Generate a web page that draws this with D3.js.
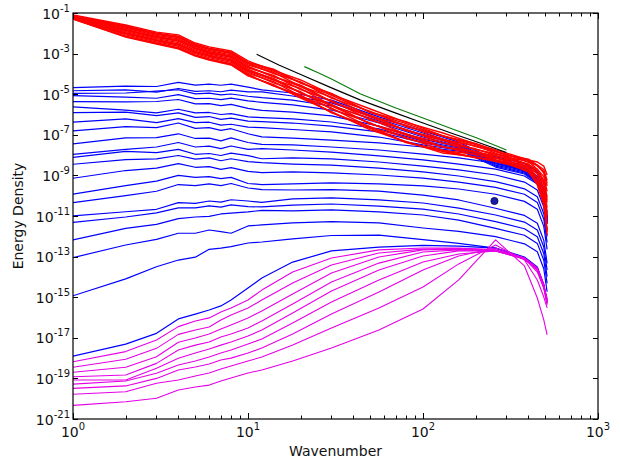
<!DOCTYPE html>
<html>
<head>
<meta charset="utf-8">
<script src="https://cdn.jsdelivr.net/npm/d3@7"></script>
<style>
  body { margin: 0; background: #fff; }
  text { font-family: "DejaVu Sans", sans-serif; fill: #111; }
</style>
</head>
<body>
<svg id="chart" width="620" height="461"></svg>
<script>
// wavenumbers sampled for the red curves, and log10(energy) per curve
const kRed = [1, 2, 3, 4, 5, 6, 8, 10, 14, 20, 30, 50, 80, 130, 200, 300, 400, 450, 490, 512];
const redLog = [
  [-1.10,-1.59,-1.94,-2.08,-2.48,-2.67,-2.87,-3.36,-3.83,-4.30,-5.01,-5.73,-6.39,-6.91,-7.45,-7.90,-8.24,-8.34,-8.54,-8.98],
  [-1.12,-1.64,-1.99,-2.14,-2.54,-2.73,-2.93,-3.43,-3.77,-4.45,-4.96,-5.89,-6.35,-7.05,-7.42,-8.00,-8.20,-8.49,-8.71,-9.25],
  [-1.13,-1.67,-2.02,-2.18,-2.57,-2.76,-2.97,-3.46,-3.86,-4.44,-5.06,-5.90,-6.45,-7.08,-7.48,-8.01,-8.26,-8.53,-8.81,-9.39],
  [-1.14,-1.70,-2.05,-2.21,-2.60,-2.79,-3.00,-3.49,-3.98,-4.39,-5.19,-5.85,-6.59,-7.04,-7.58,-7.95,-8.36,-8.50,-8.89,-9.52],
  [-1.15,-1.75,-2.10,-2.27,-2.65,-2.85,-3.06,-3.56,-3.92,-4.61,-5.14,-6.08,-6.54,-7.23,-7.55,-8.10,-8.31,-8.70,-9.06,-9.79],
  [-1.17,-1.81,-2.15,-2.33,-2.71,-2.91,-3.12,-3.63,-4.14,-4.55,-5.37,-6.03,-6.78,-7.22,-7.72,-8.05,-8.47,-8.70,-9.24,-10.06],
  [-1.18,-1.84,-2.18,-2.36,-2.74,-2.94,-3.15,-3.66,-4.13,-4.63,-5.38,-6.12,-6.79,-7.29,-7.73,-8.09,-8.48,-8.77,-9.33,-10.19],
  [-1.19,-1.86,-2.21,-2.39,-2.77,-2.97,-3.18,-3.70,-4.07,-4.77,-5.32,-6.27,-6.74,-7.41,-7.69,-8.20,-8.43,-8.90,-9.41,-10.33],
  [-1.21,-1.92,-2.26,-2.46,-2.83,-3.02,-3.25,-3.76,-4.29,-4.72,-5.55,-6.22,-6.98,-7.40,-7.85,-8.14,-8.59,-8.91,-9.59,-10.59],
  [-1.23,-1.97,-2.32,-2.52,-2.89,-3.08,-3.31,-3.83,-4.22,-4.94,-5.50,-6.46,-6.94,-7.59,-7.82,-8.29,-8.55,-9.11,-9.76,-10.86],
  [-1.24,-2.00,-2.34,-2.55,-2.92,-3.11,-3.34,-3.86,-4.30,-4.94,-5.58,-6.46,-7.02,-7.61,-7.87,-8.30,-8.60,-9.14,-9.85,-10.99],
  [-1.25,-2.03,-2.37,-2.58,-2.95,-3.14,-3.37,-3.90,-4.44,-4.88,-5.73,-6.41,-7.18,-7.58,-7.99,-8.24,-8.71,-9.11,-9.94,-11.13],
  [-1.26,-2.08,-2.42,-2.64,-3.00,-3.20,-3.43,-3.97,-4.38,-5.10,-5.68,-6.64,-7.13,-7.77,-7.96,-8.39,-8.66,-9.31,-10.11,-11.40],
  [-1.28,-2.14,-2.48,-2.71,-3.06,-3.26,-3.50,-4.03,-4.59,-5.04,-5.91,-6.60,-7.37,-7.76,-8.12,-8.34,-8.82,-9.32,-10.29,-11.67],
  [-1.29,-2.16,-2.50,-2.74,-3.09,-3.29,-3.53,-4.06,-4.59,-5.12,-5.91,-6.68,-7.38,-7.82,-8.13,-8.38,-8.83,-9.38,-10.36,-11.79],
  [-1.30,-2.19,-2.53,-2.77,-3.12,-3.32,-3.56,-4.10,-4.53,-5.19,-5.86,-6.76,-7.33,-7.90,-8.09,-8.44,-8.78,-9.47,-10.46,-11.94]
];

// wavenumbers sampled for the blue and magenta curves
const kLow = [1, 2, 3, 4, 5, 6, 7, 8, 10, 12, 18, 30, 56, 100, 160, 260, 380, 450, 490, 512];
const blueLog = [
  [-4.68,-4.60,-4.62,-4.42,-4.55,-4.50,-4.56,-4.50,-4.65,-4.79,-4.94,-5.29,-6.12,-6.81,-7.36,-8.24,-8.59,-9.03,-9.82,-11.00],
  [-4.83,-4.79,-4.90,-4.72,-4.86,-4.83,-4.88,-4.80,-4.89,-4.89,-5.09,-5.43,-6.22,-6.91,-7.45,-8.29,-8.64,-9.08,-9.87,-11.05],
  [-4.96,-4.94,-4.85,-4.78,-4.98,-4.95,-5.03,-4.99,-5.10,-5.17,-5.29,-5.58,-6.32,-7.01,-7.50,-8.34,-8.69,-9.13,-9.92,-11.10],
  [-5.07,-5.14,-5.20,-5.02,-5.22,-5.20,-5.27,-5.19,-5.33,-5.40,-5.53,-5.78,-6.42,-7.11,-7.55,-8.39,-8.73,-9.18,-9.97,-11.15],
  [-5.37,-5.38,-5.36,-5.26,-5.48,-5.46,-5.56,-5.50,-5.70,-5.80,-5.88,-6.07,-6.57,-7.21,-7.60,-8.44,-8.78,-9.23,-10.02,-11.20],
  [-5.62,-5.78,-5.92,-5.74,-5.92,-5.90,-6.00,-5.96,-6.12,-6.15,-6.22,-6.37,-6.71,-7.31,-7.65,-8.49,-8.83,-9.28,-10.06,-11.25],
  [-5.91,-5.88,-6.06,-5.92,-6.14,-6.10,-6.24,-6.18,-6.33,-6.35,-6.42,-6.57,-6.86,-7.40,-7.70,-8.54,-8.88,-9.33,-10.11,-11.30],
  [-6.38,-6.22,-6.40,-6.20,-6.40,-6.38,-6.52,-6.48,-6.62,-6.65,-6.74,-6.86,-7.11,-7.50,-7.75,-8.59,-8.93,-9.37,-10.16,-11.35],
  [-6.81,-6.60,-6.65,-6.42,-6.68,-6.65,-6.78,-6.70,-6.95,-7.10,-7.16,-7.26,-7.40,-7.60,-7.80,-8.08,-8.42,-8.82,-9.66,-10.79],
  [-7.45,-7.15,-7.14,-6.95,-7.18,-7.16,-7.30,-7.15,-7.38,-7.47,-7.50,-7.60,-7.75,-7.95,-8.14,-8.40,-8.75,-9.14,-9.98,-11.11],
  [-7.96,-7.72,-7.60,-7.38,-7.60,-7.56,-7.68,-7.55,-7.72,-7.68,-7.75,-7.85,-8.04,-8.24,-8.44,-8.69,-9.03,-9.42,-10.26,-11.39],
  [-8.11,-7.82,-7.88,-7.72,-7.96,-7.92,-8.02,-7.90,-8.03,-8.18,-8.14,-8.19,-8.34,-8.54,-8.73,-8.98,-9.33,-9.72,-10.56,-11.69],
  [-8.45,-8.22,-8.19,-8.02,-8.20,-8.14,-8.28,-8.18,-8.32,-8.37,-8.44,-8.49,-8.64,-8.83,-9.03,-9.31,-9.66,-10.05,-10.89,-12.02],
  [-9.14,-8.76,-8.64,-8.42,-8.60,-8.57,-8.70,-8.62,-8.80,-8.86,-8.83,-8.88,-8.98,-9.13,-9.33,-9.59,-9.93,-10.33,-11.16,-12.30],
  [-9.92,-9.50,-9.28,-9.00,-9.10,-9.06,-9.16,-9.10,-9.40,-9.45,-9.42,-9.37,-9.42,-9.52,-9.67,-9.93,-10.28,-10.67,-11.51,-12.64],
  [-10.34,-10.00,-9.78,-9.45,-9.50,-9.42,-9.50,-9.40,-9.62,-9.70,-9.72,-9.70,-9.77,-9.97,-10.21,-10.62,-10.97,-11.36,-12.20,-13.33],
  [-10.99,-10.79,-10.67,-10.34,-10.38,-10.26,-10.32,-10.20,-10.26,-10.33,-10.16,-10.11,-10.21,-10.36,-10.61,-10.95,-11.30,-11.69,-12.53,-13.66],
  [-11.31,-11.05,-10.85,-10.60,-10.60,-10.50,-10.56,-10.45,-10.54,-10.55,-10.46,-10.41,-10.51,-10.66,-10.90,-11.28,-11.63,-12.02,-12.86,-13.99],
  [-12.18,-11.61,-11.41,-11.13,-11.05,-11.02,-10.90,-10.86,-10.80,-10.72,-10.75,-10.70,-10.80,-10.95,-11.20,-11.61,-11.95,-12.35,-13.18,-14.32],
  [-13.05,-12.43,-12.15,-11.85,-11.85,-11.69,-11.77,-11.85,-11.49,-11.44,-11.34,-11.28,-11.34,-11.59,-11.76,-12.02,-12.37,-12.76,-13.60,-14.73],
  [-14.93,-14.10,-13.50,-13.17,-13.03,-12.64,-12.58,-12.51,-12.33,-12.28,-12.13,-11.96,-11.94,-12.16,-12.35,-12.58,-13.02,-13.51,-14.40,-15.14],
  [-17.90,-17.31,-16.78,-16.07,-15.83,-15.63,-15.43,-15.14,-14.55,-14.05,-13.27,-12.72,-12.53,-12.45,-12.48,-12.58,-13.07,-13.56,-14.40,-15.24]
];
const magentaLog = [
  [-18.18,-17.68,-17.11,-16.45,-16.17,-16.02,-15.73,-15.53,-15.14,-14.65,-13.76,-13.07,-12.67,-12.58,-12.58,-12.67,-13.07,-13.56,-14.35,-15.14],
  [-18.45,-18.06,-17.52,-16.83,-16.62,-16.47,-16.12,-15.88,-15.53,-15.14,-14.30,-13.41,-12.82,-12.63,-12.60,-12.67,-13.07,-13.56,-14.40,-15.19],
  [-18.70,-18.45,-17.93,-17.22,-17.01,-16.81,-16.57,-16.37,-16.02,-15.68,-14.84,-13.81,-13.02,-12.67,-12.63,-12.72,-13.07,-13.61,-14.45,-15.24],
  [-18.92,-18.83,-18.26,-17.60,-17.36,-17.21,-16.96,-16.81,-16.52,-16.17,-15.34,-14.25,-13.32,-12.77,-12.67,-12.72,-13.12,-13.61,-14.45,-15.29],
  [-19.08,-19.08,-18.50,-18.01,-17.75,-17.55,-17.36,-17.21,-16.91,-16.62,-15.78,-14.69,-13.66,-12.97,-12.72,-12.72,-13.12,-13.66,-14.50,-15.33],
  [-19.28,-19.13,-18.75,-18.34,-18.14,-17.95,-17.75,-17.60,-17.31,-17.06,-16.27,-15.24,-14.15,-13.27,-12.87,-12.72,-13.12,-13.66,-14.55,-15.38],
  [-19.49,-19.37,-19.00,-18.59,-18.44,-18.29,-18.09,-18.00,-17.75,-17.50,-16.81,-15.83,-14.74,-13.66,-12.97,-12.58,-13.07,-13.76,-14.55,-15.04],
  [-19.78,-19.66,-19.24,-19.08,-18.88,-18.73,-18.54,-18.39,-18.14,-17.95,-17.35,-16.52,-15.53,-14.50,-13.36,-12.43,-13.17,-14.15,-14.99,-15.53],
  [-20.33,-20.15,-19.98,-19.57,-19.42,-19.33,-19.13,-18.98,-18.73,-18.59,-18.14,-17.50,-16.62,-15.58,-14.15,-12.18,-13.46,-15.04,-16.12,-16.86]
];

// reference slopes (black, green) and the marked point
const kBlack = [11.2, 15, 20, 30, 44, 70, 100, 150, 200, 300];
const blackLog = [-3.03, -3.56, -4.03, -4.69, -5.29, -5.93, -6.42, -6.96, -7.33, -7.87];
const kGreen = [21, 25, 30, 44, 70, 100, 150, 200, 300];
const greenLog = [-3.64, -3.93, -4.25, -4.99, -5.68, -6.17, -6.74, -7.13, -7.75];
const markK = 256, markLog = -10.26;

const xTickLabels = [0, 1, 2, 3];
const yTickLabels = [-1, -3, -5, -7, -9, -11, -13, -15, -17, -19, -21];

const svg = d3.select("#chart");
const mLeft = 73, mRight = 598, mTop = 13, mBottom = 419;

const x = d3.scaleLog().domain([1, 1000]).range([mLeft, mRight]);
const y = d3.scaleLog().domain([1e-21, 1e-1]).range([mBottom, mTop]);

svg.append("defs").append("clipPath").attr("id", "clip")
  .append("rect").attr("x", mLeft).attr("y", mTop)
  .attr("width", mRight - mLeft).attr("height", mBottom - mTop);

const line = d3.line().x(d => x(d[0])).y(d => y(d[1]));
const toPts = (ks, logs) => ks.map((k, i) => [k, Math.pow(10, logs[i])]);

const plot = svg.append("g").attr("clip-path", "url(#clip)");

function drawSet(ks, sets, color, w) {
  plot.append("g").selectAll(null)
    .data(sets)
    .enter()
    .append("path")
    .attr("d", d => line(toPts(ks, d)))
    .attr("fill", "none")
    .attr("stroke", color)
    .attr("stroke-width", w)
    .attr("stroke-linejoin", "round");
}

drawSet(kLow, blueLog, "#0000ff", 1.2);
drawSet(kLow, magentaLog, "#e600e6", 1.1);
drawSet(kRed, redLog, "#ff0000", 1.4);

plot.append("path").attr("d", line(toPts(kBlack, blackLog)))
  .attr("fill", "none").attr("stroke", "#000").attr("stroke-width", 1.2);
plot.append("path").attr("d", line(toPts(kGreen, greenLog)))
  .attr("fill", "none").attr("stroke", "#0b7a0b").attr("stroke-width", 1.2);

plot.append("circle")
  .attr("cx", x(markK)).attr("cy", y(Math.pow(10, markLog)))
  .attr("r", 3.6).attr("fill", "#1c1ca8").attr("stroke", "#000050").attr("stroke-width", 0.8);

// frame
svg.append("rect").attr("x", mLeft).attr("y", mTop)
  .attr("width", mRight - mLeft).attr("height", mBottom - mTop)
  .attr("fill", "none").attr("stroke", "#000").attr("stroke-width", 1.2);

// x ticks (inward, top and bottom)
const ax = svg.append("g").attr("stroke", "#000").attr("stroke-width", 1);
x.ticks().forEach(t => {
  const major = Math.abs(Math.log10(t) - Math.round(Math.log10(t))) < 1e-9;
  const len = major ? 6 : 3.5;
  const px = Math.round(x(t)) + 0.5;
  ax.append("line").attr("x1", px).attr("x2", px).attr("y1", mBottom).attr("y2", mBottom - len);
  ax.append("line").attr("x1", px).attr("x2", px).attr("y1", mTop).attr("y2", mTop + len);
});
yTickLabels.forEach(e => {
  const py = Math.round(y(Math.pow(10, e))) + 0.5;
  ax.append("line").attr("x1", mLeft).attr("x2", mLeft + 5).attr("y1", py).attr("y2", py);
  ax.append("line").attr("x1", mRight).attr("x2", mRight - 5).attr("y1", py).attr("y2", py);
});

// tick labels
xTickLabels.forEach(e => {
  const t = svg.append("text")
    .attr("x", x(Math.pow(10, e)))
    .attr("y", 437)
    .attr("text-anchor", "middle")
    .style("font-size", "14px");
  t.append("tspan").text("10");
  t.append("tspan").attr("dy", -7).style("font-size", "10px").text(e);
});
yTickLabels.forEach(e => {
  const t = svg.append("text")
    .attr("x", 70)
    .attr("y", y(Math.pow(10, e)) + 5.5)
    .attr("text-anchor", "end")
    .style("font-size", "14px");
  t.append("tspan").text("10");
  t.append("tspan").attr("dy", -7).style("font-size", "10px").text("-" + Math.abs(e));
});

svg.append("text")
  .attr("x", (mLeft + mRight) / 2)
  .attr("y", 456)
  .attr("text-anchor", "middle")
  .style("font-size", "14px")
  .text("Wavenumber");

svg.append("text")
  .attr("transform", "translate(23," + ((mTop + mBottom) / 2) + ") rotate(-90)")
  .attr("text-anchor", "middle")
  .style("font-size", "14px")
  .text("Energy Density");
</script>
</body>
</html>
